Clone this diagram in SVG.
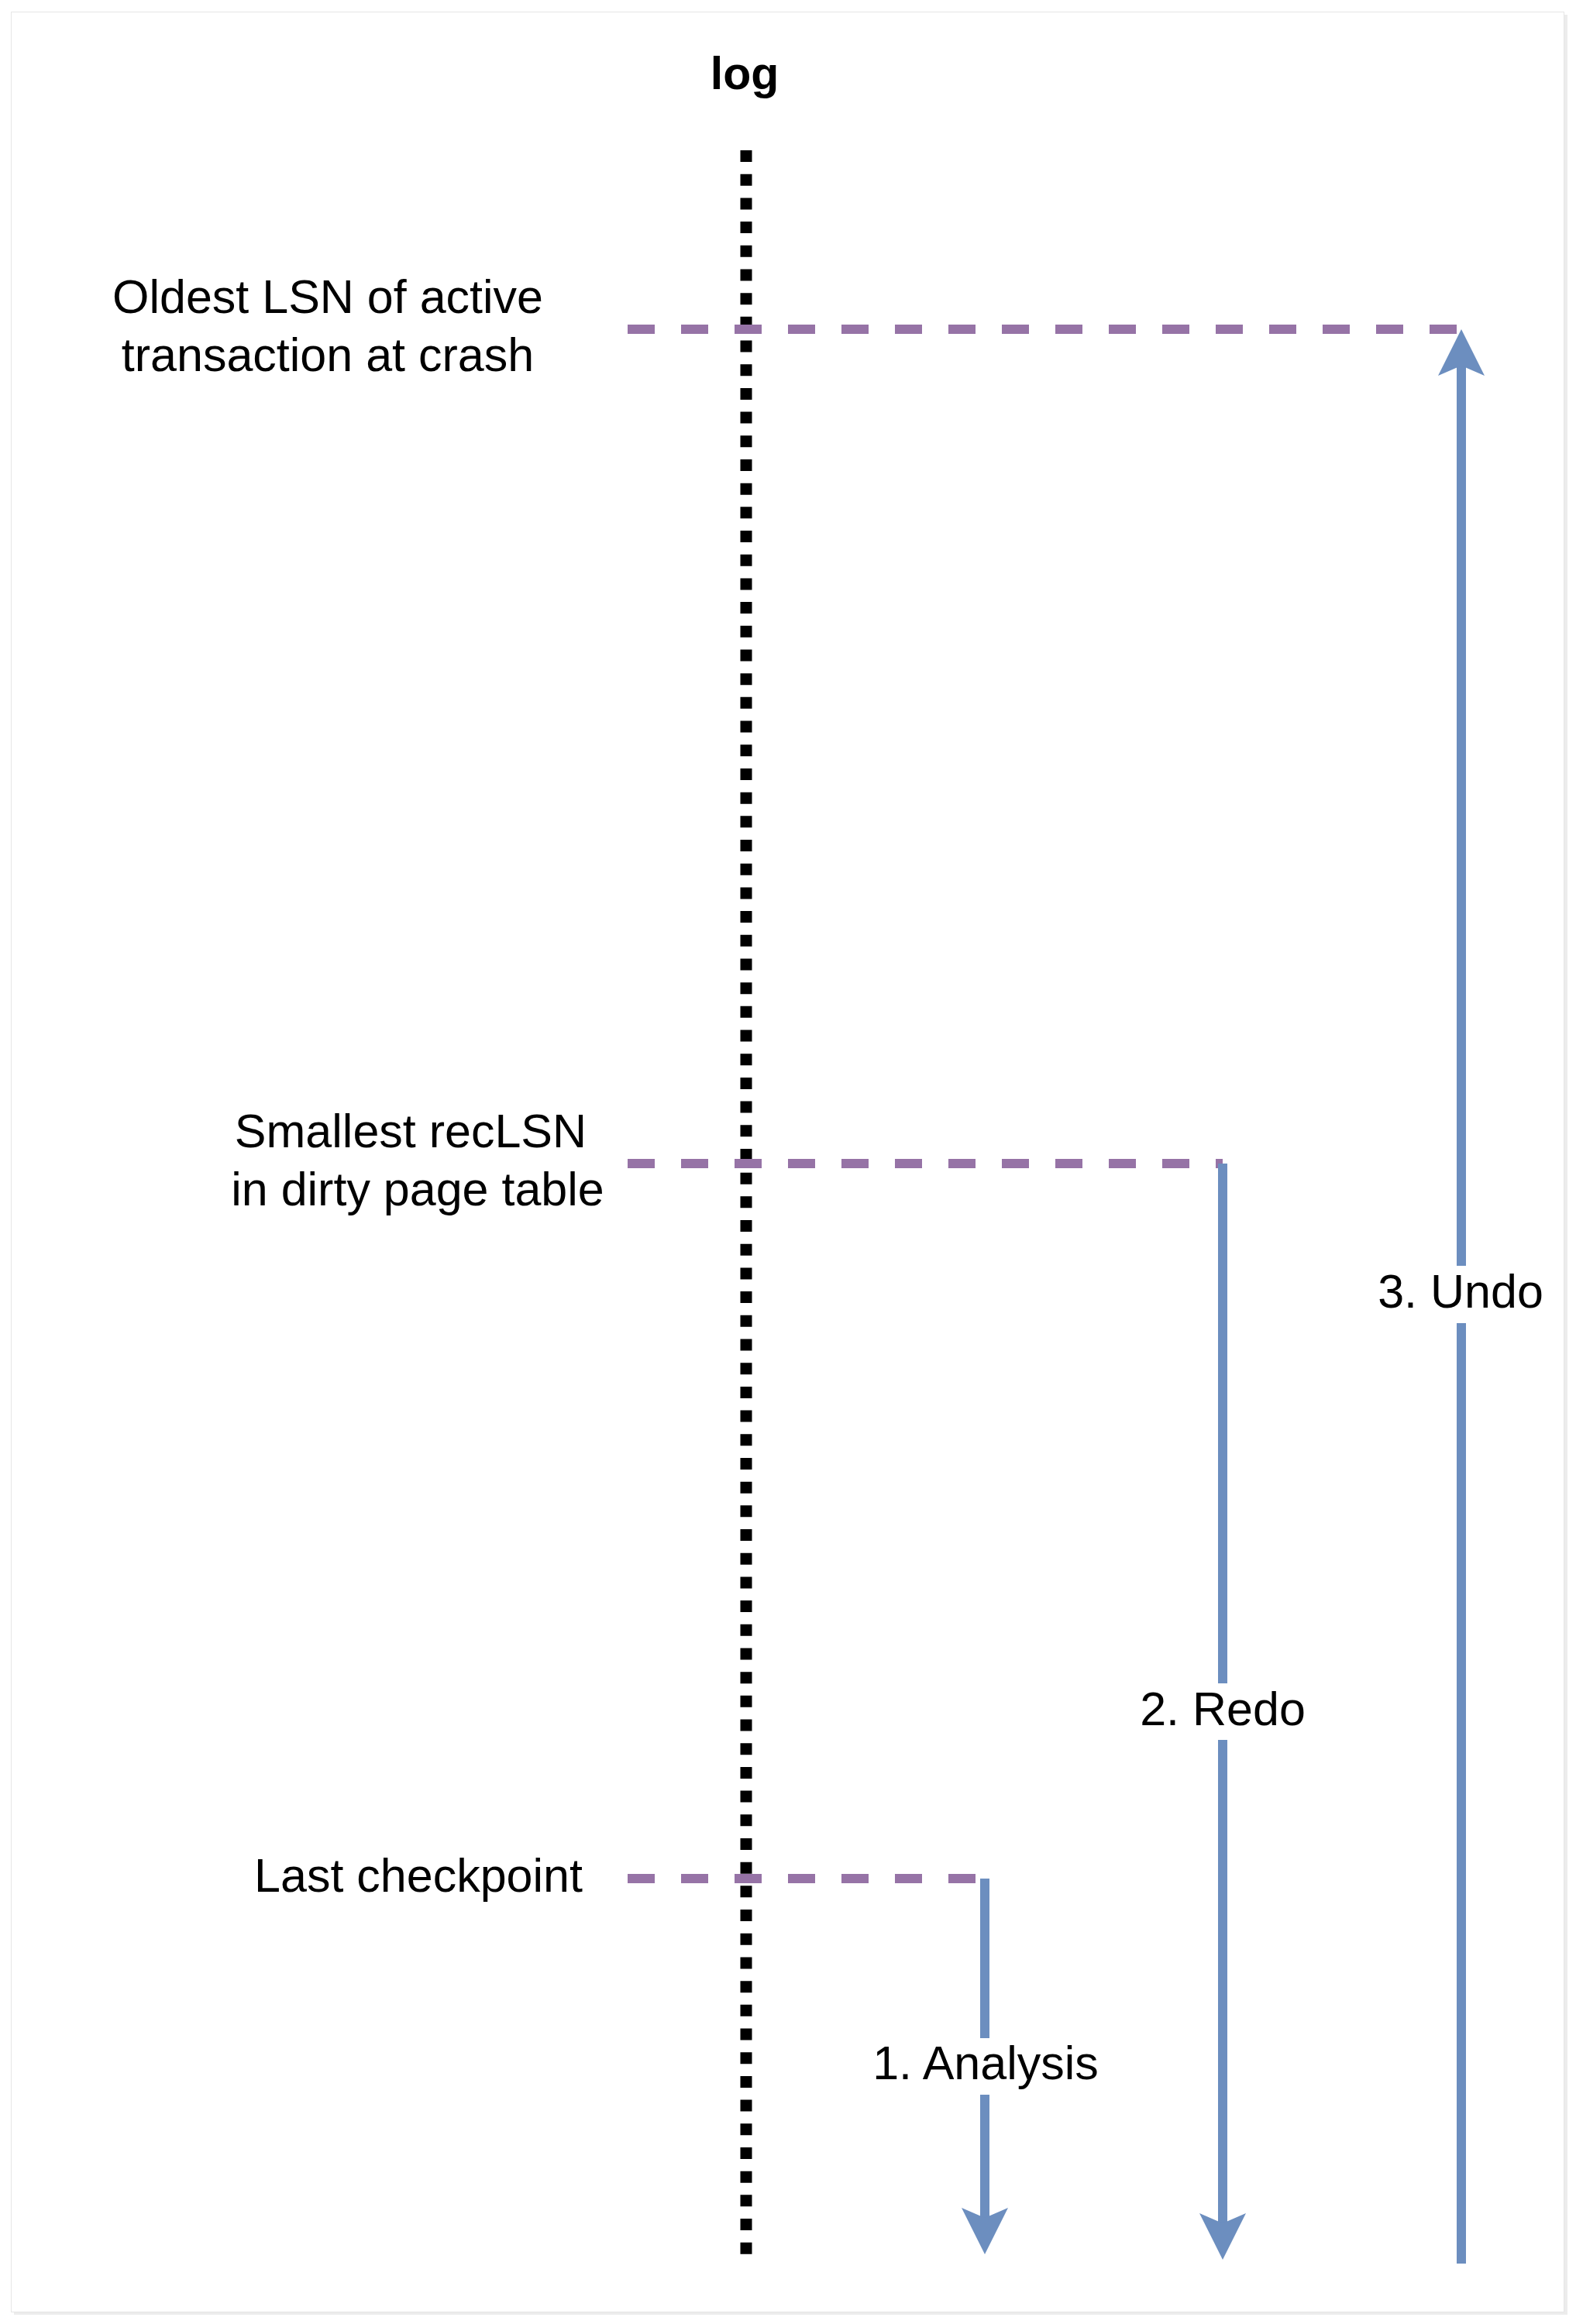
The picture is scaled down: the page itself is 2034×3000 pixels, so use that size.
<svg xmlns="http://www.w3.org/2000/svg" width="2034" height="3000" viewBox="0 0 2034 3000">
  <style>
    .t { font-family: "Liberation Sans", Arial, Helvetica, sans-serif; font-size: 61px; fill: #000000; text-anchor: middle; }
    .b { font-weight: bold; font-size: 59px; }
    .marker-line { fill: none; stroke: #9673a6; stroke-width: 12; stroke-dasharray: 35 34; }
    .arrow { fill: none; stroke: #6c8ebf; stroke-width: 12; }
    .lblbg { fill: #ffffff; }
  </style>
  <defs>
    <marker id="head" markerUnits="userSpaceOnUse" markerWidth="80" markerHeight="80" refX="0" refY="0" orient="auto" overflow="visible" viewBox="-20 -40 80 80">
      <path d="M47,0 L-13,-30 L0,0 L-13,30 Z" fill="#6c8ebf" stroke="none"/>
    </marker>
  </defs>

  <rect x="0" y="0" width="2034" height="3000" fill="#ffffff"/>
  <rect x="18" y="19" width="2005" height="2969" fill="#ececec"/>
  <rect x="14.5" y="15.5" width="2004" height="2969" fill="#ffffff" stroke="#e6e6e6" stroke-width="1"/>

  <g id="log-axis">
    <text class="t b" x="961" y="115">log</text>
    <line x1="963" y1="194" x2="963" y2="2910" stroke="#000000" stroke-width="15" stroke-dasharray="15 15.69"/>
  </g>

  <g id="oldest-lsn">
    <text class="t" x="423" y="404">Oldest LSN of active</text>
    <text class="t" x="423" y="479">transaction at crash</text>
  </g>

  <g id="smallest-reclsn">
    <text class="t" x="530" y="1481">Smallest recLSN</text>
    <text class="t" x="539" y="1556">in dirty page table</text>
  </g>

  <g id="last-checkpoint">
    <text class="t" x="540" y="2442">Last checkpoint</text>
  </g>

  <g id="connectors">
    <line class="marker-line" x1="810" y1="425" x2="1882" y2="425"/>
    <line class="marker-line" x1="810" y1="1502" x2="1578" y2="1502"/>
    <line class="marker-line" x1="810" y1="2425" x2="1259" y2="2425"/>

    <line class="arrow" x1="1271" y1="2425" x2="1271" y2="2863" marker-end="url(#head)"/>
    <line class="arrow" x1="1578" y1="1502" x2="1578" y2="2870" marker-end="url(#head)"/>
    <line class="arrow" x1="1886" y1="2922" x2="1886" y2="472" marker-end="url(#head)"/>
  </g>

  <g id="label-analysis">
    <rect class="lblbg" x="1129" y="2631" width="286" height="73"/>
    <text class="t" x="1272" y="2684">1. Analysis</text>
  </g>
  <g id="label-redo">
    <rect class="lblbg" x="1472" y="2173" width="212" height="73"/>
    <text class="t" x="1578" y="2227">2. Redo</text>
  </g>
  <g id="label-undo">
    <rect class="lblbg" x="1779" y="1634" width="213" height="74"/>
    <text class="t" x="1885" y="1688">3. Undo</text>
  </g>
</svg>
